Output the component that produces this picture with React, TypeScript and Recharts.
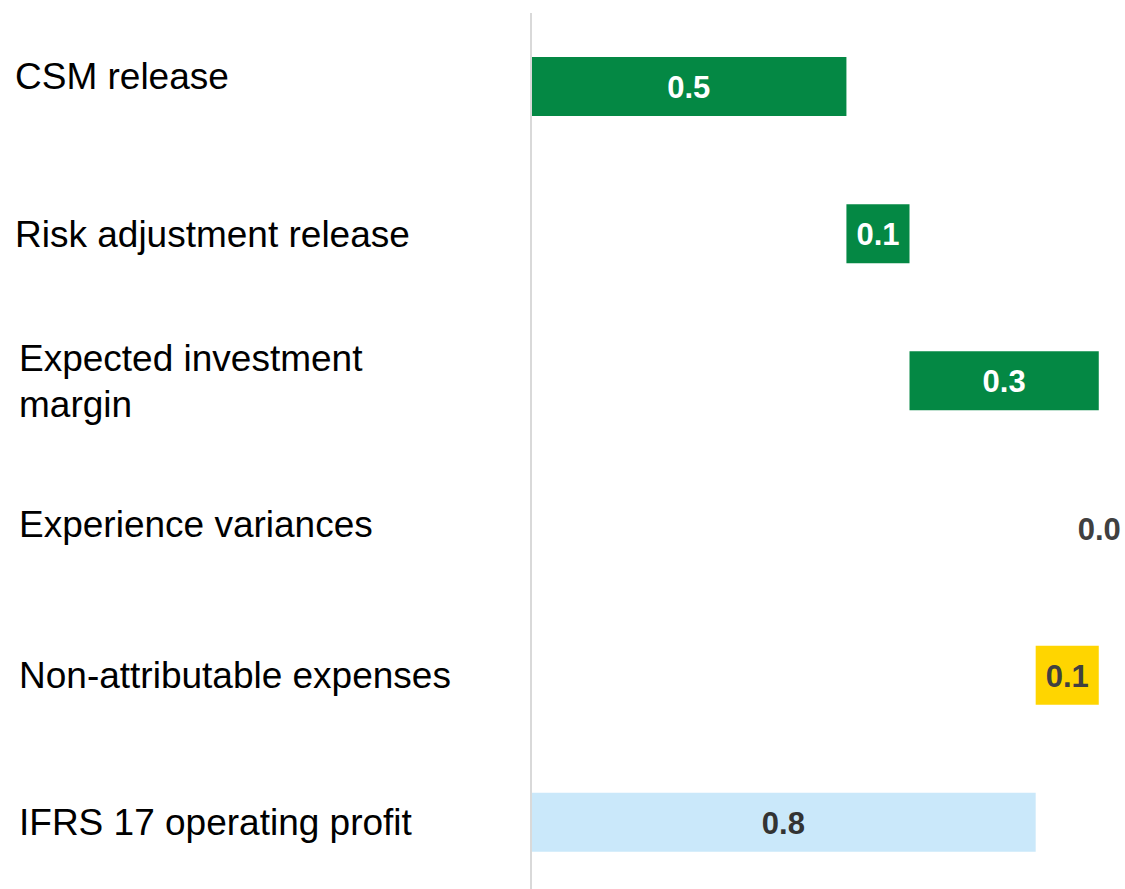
import React from "react";
import { Bar, BarChart, Cell, LabelList, XAxis, YAxis } from "recharts";

const categories = [
  "CSM release",
  "Risk adjustment release",
  "Expected investment margin",
  "Experience variances",
  "Non-attributable expenses",
  "IFRS 17 operating profit",
];
const amounts = [0.5, 0.1, 0.3, 0.0, -0.1, 0.8];
const kinds = ["up", "up", "up", "up", "down", "total"];

const FILL: Record<string, string> = {
  up: "#048844",
  down: "#FFD500",
  total: "#CAE8FA",
};
const TEXT: Record<string, string> = {
  up: "#ffffff",
  down: "#404040",
  total: "#333333",
};

// waterfall: invisible base + visible step
let running = 0;
const data = categories.map((name, i) => {
  const amt = amounts[i];
  let base = 0;
  let len = 0;
  if (kinds[i] === "total") {
    base = 0;
    len = amt;
  } else if (amt >= 0) {
    base = running;
    len = amt;
    running += amt;
  } else {
    running += amt;
    base = running;
    len = -amt;
  }
  return { name, base, len, amt, kind: kinds[i] };
});

const FONT = "'Liberation Sans', Arial, sans-serif";

// small nudges so the labels sit where the original slide put them
const tickShift: Record<string, { x: number; dy: number }> = {
  "CSM release": { x: 15, dy: -11 },
  "Risk adjustment release": { x: 15, dy: 0 },
  "Experience variances": { x: 19, dy: -4 },
};

function CategoryTick(props: any) {
  const { y, payload } = props;
  const label: string = payload.value;
  const shift = tickShift[label] ?? { x: 19, dy: 0 };
  const lines = label === "Expected investment margin" ? ["Expected investment", "margin"] : [label];
  const lh = 46;
  const start = y + shift.dy - ((lines.length - 1) * lh) / 2;
  return (
    <text x={shift.x} y={start} fill="#000" fontFamily={FONT} fontSize={37} textAnchor="start" dominantBaseline="central">
      {lines.map((l, i) => (
        <tspan key={i} x={shift.x} y={start + i * lh} dominantBaseline="central">
          {l}
        </tspan>
      ))}
    </text>
  );
}

function ValueLabel(props: any) {
  const { x, y, width, height, value } = props;
  const d = data.find((e) => e.name === value);
  if (!d) return null;
  const color = d.amt === 0 ? "#404040" : TEXT[d.kind];
  return (
    <text
      x={x + width / 2}
      y={y + height / 2 + 1}
      fill={color}
      fontFamily={FONT}
      fontSize={31}
      fontWeight="bold"
      textAnchor="middle"
      dominantBaseline="central"
    >
      {Math.abs(d.amt).toFixed(1)}
    </text>
  );
}

export default function App() {
  return (
    <div
      style={{
        position: "absolute",
        left: 0,
        top: 0,
        width: 1125,
        height: 889,
        overflow: "hidden",
        background: "#fff",
      }}
    >
      <BarChart
        width={1125}
        height={896}
        data={data}
        layout="vertical"
        margin={{ top: 13, right: 1, bottom: 0, left: 0 }}
        barSize={59}
        style={{ overflow: "visible" }}
      >
        <XAxis type="number" domain={[0, 0.94]} hide />
        <YAxis
          type="category"
          dataKey="name"
          width={531}
          axisLine={{ stroke: "#d9d9d9", strokeWidth: 2 }}
          tickLine={false}
          tick={<CategoryTick />}
          interval={0}
        />
        <Bar dataKey="base" stackId="w" fill="transparent" isAnimationActive={false} />
        <Bar dataKey="len" stackId="w" minPointSize={1} isAnimationActive={false}>
          {data.map((d, i) => (
            <Cell key={i} fill={d.amt === 0 ? "transparent" : FILL[d.kind]} />
          ))}
          <LabelList dataKey="name" content={<ValueLabel />} />
        </Bar>
      </BarChart>
    </div>
  );
}
